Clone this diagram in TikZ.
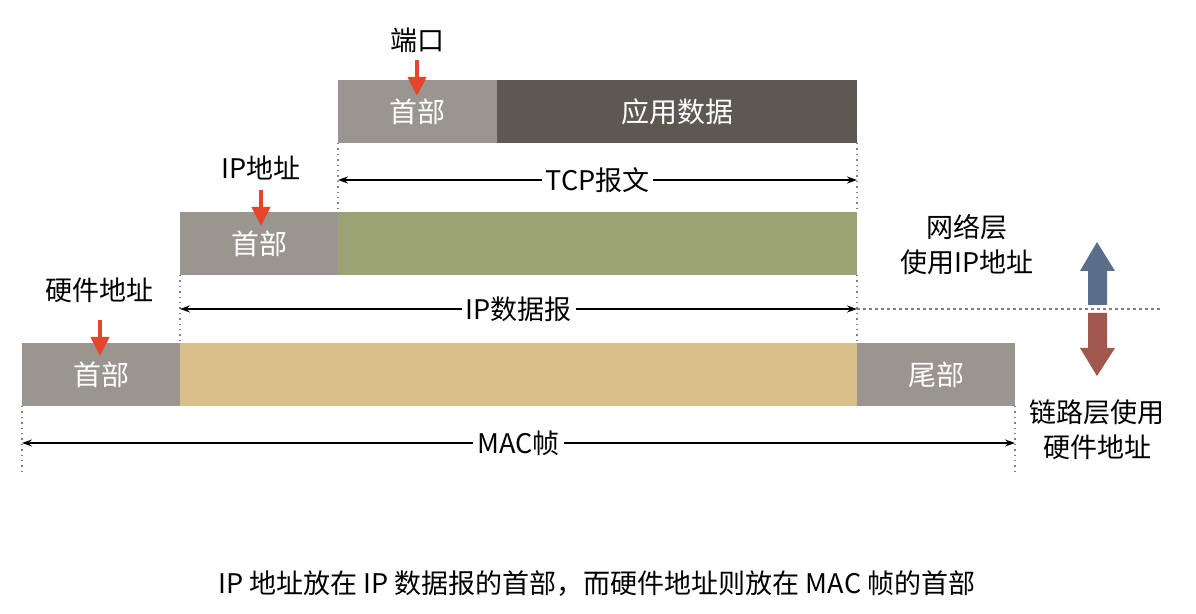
\documentclass[tikz,border=0pt]{standalone}
\usepackage{fontspec}
\setmainfont{Noto Sans CJK SC}
\usetikzlibrary{arrows.meta}

\definecolor{hdrgray}{HTML}{9A958F}
\definecolor{appdark}{HTML}{5D5952}
\definecolor{ipgreen}{HTML}{9BA374}
\definecolor{mactan}{HTML}{DBBF8A}
\definecolor{pinred}{HTML}{E5452B}
\definecolor{upblue}{HTML}{5A6D89}
\definecolor{downred}{HTML}{A0574E}

\tikzset{
  seg/.style={anchor=north west, minimum height=31.5pt, inner sep=0pt, outer sep=0pt,
    text=white, font=\fontsize{14}{16}\selectfont},
  pin/.style={-{Triangle[length=9.5pt,width=9pt]}, pinred, line width=2pt},
  span/.style={{Stealth[length=5pt,width=3.5pt]}-{Stealth[length=5pt,width=3.5pt]}, line width=0.7pt},
  guide/.style={line width=0.7pt, gray, dash pattern=on 0.7pt off 2pt},
  lbl/.style={font=\fontsize{13.5}{17.5}\selectfont},
  spanlbl/.style={lbl, fill=white, inner sep=2pt},
}

\begin{document}
\begin{tikzpicture}[x=0.5pt, y=-0.5pt]
    \useasboundingbox[fill=white] (0,0) rectangle (1196,614);

    % TCP segment
    \node[seg, fill=hdrgray, minimum width=79.5pt] (tcphdr) at (338,80) {首部};
    \node[seg, fill=appdark, minimum width=180pt] (tcpdata) at (tcphdr.north east) {应用数据};

    % IP datagram
    \node[seg, fill=hdrgray, minimum width=79pt] (iphdr) at (180,212) {首部};
    \node[seg, fill=ipgreen, minimum width=259.5pt] (ipdata) at (iphdr.north east) {};

    % MAC frame
    \node[seg, fill=hdrgray, minimum width=79pt] (machdr) at (22,343) {首部};
    \node[seg, fill=mactan, minimum width=338.5pt] (macdata) at (machdr.north east) {};
    \node[seg, fill=hdrgray, minimum width=79pt] (mactail) at (macdata.north east) {尾部};

    % Labels with red pins
    \node[lbl] (port) at (417,40) {端口};
    \node[lbl] (ipaddr) at (261,168) {IP地址};
    \node[lbl] (hwaddr) at (100,290) {硬件地址};
    \coordinate (p1top) at (417,60);  \coordinate (p1tip) at (417,96);
    \coordinate (p2top) at (261,190); \coordinate (p2tip) at (261,226);
    \coordinate (p3top) at (100,320); \coordinate (p3tip) at (100,356);
    \draw[pin] (p1top) -- (p1tip);
    \draw[pin] (p2top) -- (p2tip);
    \draw[pin] (p3top) -- (p3tip);

    % Guide lines
    \coordinate (tcpL) at (338,180);
    \coordinate (tcpR) at (857,180);
    \coordinate (ipL) at (180,309);
    \coordinate (ipR) at (857,309);
    \coordinate (macL) at (22,443);
    \coordinate (macR) at (1015,443);
    \coordinate (layerEnd) at (1160,309);
    \draw[guide] (tcphdr.south west) -- ++(0,-35pt);
    \draw[guide] (tcpdata.south east) -- ++(0,-35pt);
    \draw[guide] (iphdr.south west) -- ++(0,-34pt);
    \draw[guide] (ipdata.south east) -- ++(0,-34pt);
    \draw[guide] (machdr.south west) -- ++(0,-34pt);
    \draw[guide] (mactail.south east) -- ++(0,-34pt);
    \draw[line width=0.7pt, gray, dash pattern=on 1.5pt off 1.5pt] (ipR) -- (layerEnd);

    % Spans
    \draw[span] (tcpL) -- (tcpR) node[midway, spanlbl] (tcplbl) {TCP报文};
    \draw[span] (ipL) -- (ipR) node[midway, spanlbl] (iplbl) {IP数据报};
    \draw[span] (macL) -- (macR) node[midway, spanlbl] (maclbl) {MAC帧};

    % Layer notes
    \node[lbl, align=center] (netnote) at (967,245) {网络层\\使用IP地址};
    \node[lbl, align=center] (linknote) at (1097,430) {链路层使用\\硬件地址};
    \fill[upblue] (1097,242) -- (1115,271) -- (1107,271) -- (1107,305) -- (1088,305) -- (1088,271) -- (1080,271) -- cycle;
    \fill[downred] (1097,376) -- (1115,348) -- (1107,348) -- (1107,313) -- (1088,313) -- (1088,348) -- (1080,348) -- cycle;

    % Caption
    \node[lbl] (caption) at (597,584) {IP 地址放在 IP 数据报的首部，而硬件地址则放在 MAC 帧的首部};
\end{tikzpicture}
\end{document}
